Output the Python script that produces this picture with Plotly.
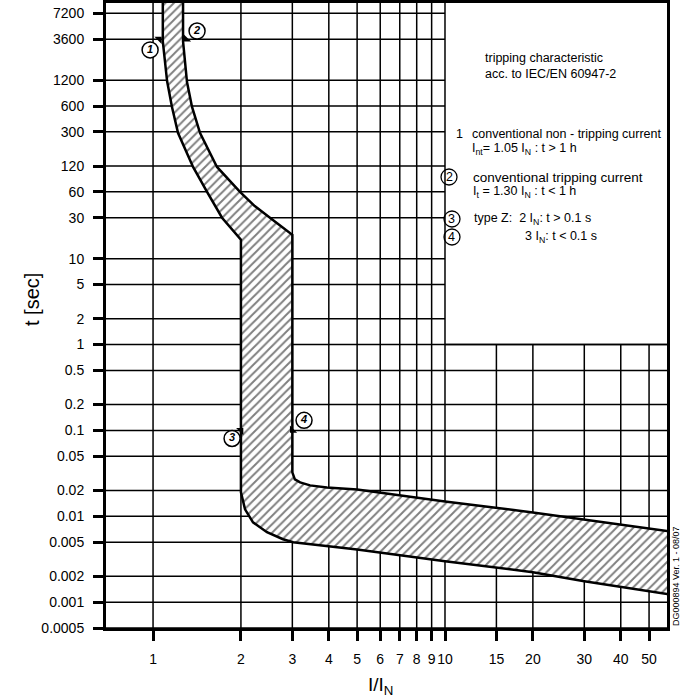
import math
import plotly.graph_objects as go

# ---------------- data ----------------
x_ticks = [1, 2, 3, 4, 5, 6, 7, 8, 9, 10, 15, 20, 30, 40, 50]
x_tick_text = ["1", "2", "3", "4", "5", "6", "7", "8", "9", "10", "15", "20", "30", "40", "50"]
y_ticks = [7200, 3600, 1200, 600, 300, 120, 60, 30, 10, 5, 2, 1, 0.5, 0.2, 0.1,
           0.05, 0.02, 0.01, 0.005, 0.002, 0.001, 0.0005]
y_tick_text = ["7200", "3600", "1200", "600", "300", "120", "60", "30", "10", "5", "2", "1",
               "0.5", "0.2", "0.1", "0.05", "0.02", "0.01", "0.005", "0.002", "0.001", "0.0005"]

# lower / left boundary of tripping band (I/IN, t[s])
lower_x = [1.08, 1.08, 1.117, 1.161, 1.218, 1.371, 1.531, 1.723, 2.0, 2.0, 2.066, 2.20, 2.456, 2.787, 3.02,
           5.0, 10.0, 20.0, 30.0, 50.0, 60.0]
lower_t = [10000, 3400, 1170, 585, 290, 117, 60, 30, 16.6, 0.019, 0.01206, 0.0085, 0.00652, 0.0054, 0.00499,
           0.0041, 0.0030, 0.00223, 0.00175, 0.00134, 0.00122]
# upper / right boundary
upper_x = [1.267, 1.267, 1.307, 1.36, 1.449, 1.656, 1.985, 2.23, 2.62, 3.0, 3.0, 3.06, 3.19, 3.45, 3.94,
           5.0, 10.0, 20.0, 30.0, 50.0, 60.0]
upper_t = [10000, 3400, 1140, 585, 290, 117, 60, 41, 27, 19, 0.0325, 0.0269, 0.0248, 0.0229, 0.0217,
           0.0205, 0.0149, 0.0111, 0.0092, 0.0072, 0.0066]

# reference points 1..4 (small wedges) and their circled labels
point_x = [1.05, 1.30, 2.0, 3.0]
point_t = [3600, 3600, 0.1, 0.1]
point_symbols = ["triangle-ne", "triangle-sw", "triangle-ne", "triangle-sw"]
label_x = [0.977, 1.415, 1.865, 3.29]
label_t = [2700, 4480, 0.0806, 0.131]
label_text = ["1", "2", "3", "4"]

x_range = [math.log10(0.69), math.log10(57.6)]
y_range = [math.log10(0.0005), math.log10(9500)]

FONT = "Liberation Sans"

fig = go.Figure()

poly_x = lower_x + upper_x[::-1]
poly_t = lower_t + upper_t[::-1]
fig.add_trace(go.Scatter(
    x=poly_x, y=poly_t, mode="lines", fill="toself",
    line=dict(color="black", width=2.5),
    fillcolor="white",
    fillpattern=dict(shape="/", size=6, solidity=0.32, fgcolor="black", bgcolor="white"),
    hoverinfo="skip",
))

fig.add_trace(go.Scatter(
    x=point_x, y=point_t, mode="markers",
    marker=dict(symbol=point_symbols, size=8, color="black"),
    hoverinfo="skip",
))

fig.add_trace(go.Scatter(
    x=label_x, y=label_t, mode="markers+text", text=label_text,
    textposition="middle center",
    textfont=dict(family=FONT, size=11, color="black", style="italic", weight="bold"),
    marker=dict(symbol="circle", size=16, color="white", line=dict(color="black", width=1.5)),
    hoverinfo="skip",
))

axis_common = dict(
    type="log", showgrid=False, automargin=False,
    showline=True, linecolor="black", linewidth=3, mirror=True,
    ticks="outside", ticklen=10, tickwidth=3, tickcolor="black",
    tickfont=dict(family=FONT, size=14, color="black"),
    zeroline=False, tickangle=0,
)
fig.update_xaxes(range=x_range, tickvals=x_ticks, ticktext=x_tick_text,
                 ticklabelstandoff=6, **axis_common)
fig.update_yaxes(range=y_range, tickvals=y_ticks, ticktext=y_tick_text,
                 ticklabelstandoff=6, **axis_common)


def fx(v):
    return (math.log10(v) - x_range[0]) / (x_range[1] - x_range[0])


def fy(v):
    return (math.log10(v) - y_range[0]) / (y_range[1] - y_range[0])


# grid lines, leaving the information box (x >= 10, t >= 1) empty
bx0 = fx(10)
by0 = fy(1)
shapes = []
GRID = dict(color="black", width=1.5)
for v in x_ticks:
    top = 1 if v <= 10 else by0
    shapes.append(dict(type="line", xref="paper", yref="paper", x0=fx(v), x1=fx(v), y0=0, y1=top,
                       line=GRID, layer="below"))
for v in y_ticks:
    right = 1 if v <= 1 else bx0
    shapes.append(dict(type="line", xref="paper", yref="paper", x0=0, x1=right, y0=fy(v), y1=fy(v),
                       line=GRID, layer="below"))
shapes.append(dict(type="line", xref="paper", yref="paper", x0=bx0, x1=1, y0=by0, y1=by0,
                   line=GRID, layer="below"))

L, R, T, B = 106, 667, 3, 628


def px(xp):
    return (xp - L) / (R - L)


def py(yp):
    return (B - yp) / (B - T)


for cx, cy in [(449, 177), (452, 219), (452, 237)]:
    shapes.append(dict(type="circle", xref="paper", yref="paper", xsizemode="pixel", ysizemode="pixel",
                       xanchor=px(cx), yanchor=py(cy), x0=-8, x1=8, y0=-8, y1=8,
                       line=dict(color="black", width=1.3), layer="above"))
fig.update_layout(shapes=shapes)

ann = []


def add_text(text, x, y, size=12, xanchor="left", angle=0):
    ann.append(dict(text=text, x=px(x), y=py(y), xref="paper", yref="paper", showarrow=False,
                    xanchor=xanchor, yanchor="middle", textangle=angle, borderpad=0, align="left",
                    font=dict(family=FONT, size=size, color="black")))


add_text("tripping characteristic<br>acc. to IEC/EN 60947-2", 484, 66, 12.5)
add_text("1", 455, 134, 12.5)
add_text("conventional non - tripping current", 471, 134, 12.5)
add_text("I<sub>nt</sub>= 1.05 I<sub>N</sub> : t > 1 h", 471, 149, 12.5)
add_text("2", 449, 177, 12.5, xanchor="center")
add_text("conventional tripping current", 472, 177, 13.5)
add_text("I<sub>t</sub> = 1.30 I<sub>N</sub> : t < 1 h", 472, 192, 12.5)
add_text("3", 452, 219, 12.5, xanchor="center")
add_text("type Z:  2 I<sub>N</sub>: t > 0.1 s", 473, 219, 12.5)
add_text("4", 452, 237, 12.5, xanchor="center")
add_text("3 I<sub>N</sub>: t < 0.1 s", 524, 237, 12.5)
add_text("t [sec]", 32, 300, 20, xanchor="center", angle=-90)
add_text("I/I<sub>N</sub>", 380, 686, 19, xanchor="center")
add_text("DG000894 Ver. 1 - 08/07", 676, 576, 9, xanchor="center", angle=-90)

fig.update_layout(
    annotations=ann,
    width=700, height=700,
    margin=dict(l=L, r=700 - R, t=T, b=700 - B, autoexpand=False),
    plot_bgcolor="white", paper_bgcolor="white",
    showlegend=False,
)

fig.write_html("out.html", config={"displayModeBar": False},
               post_script="document.body.style.margin='0';document.body.style.overflow='hidden';")
